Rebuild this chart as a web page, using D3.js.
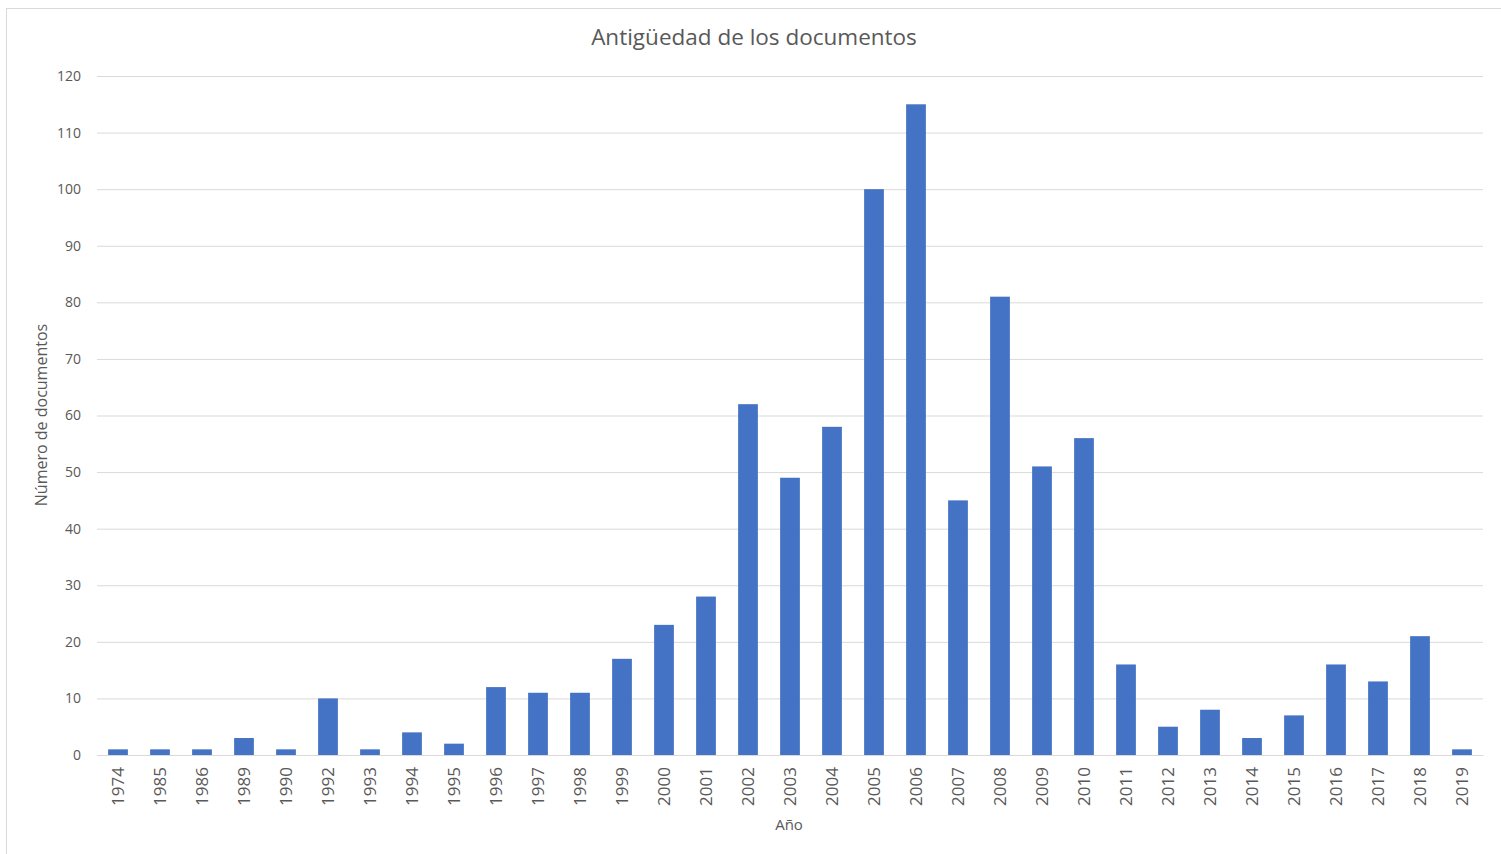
<!DOCTYPE html>
<html><head><meta charset="utf-8">
<script src="https://cdn.jsdelivr.net/npm/d3@7"></script>
<style>body{margin:0;background:#fff;}svg{display:block;}</style>
</head><body>
<svg id="chart" width="1501" height="854"></svg>
<script>
const years = ["1974","1985","1986","1989","1990","1992","1993","1994","1995","1996","1997","1998","1999","2000","2001","2002","2003","2004","2005","2006","2007","2008","2009","2010","2011","2012","2013","2014","2015","2016","2017","2018","2019"];
const counts = [1,1,1,3,1,10,1,4,2,12,11,11,17,23,28,62,49,58,100,115,45,81,51,56,16,5,8,3,7,16,13,21,1];
const yTicks = [0,10,20,30,40,50,60,70,80,90,100,110,120];
const title = "Antigüedad de los documentos";
const xTitle = "Año";
const yTitle = "Número de documentos";

(function(){
const svg = d3.select("#chart");
const font = "'Open Sans', 'Noto Sans', sans-serif";
const grey = "#595959";
svg.append("rect").attr("x",6.5).attr("y",8.5).attr("width",1500).attr("height",850)
  .attr("fill","#fff").attr("stroke","#d9d9d9");

const pL=97, pR=1483, pT=76, pB=755;
const x = d3.scaleBand().domain(years).range([pL,pR]).paddingInner(0.53).paddingOuter(0.265);
const y = d3.scaleLinear().domain([0,120]).range([pB,pT]);

const gy = svg.append("g").attr("transform",`translate(${pL},0)`)
  .call(d3.axisLeft(y).tickValues(yTicks).tickSize(-(pR-pL)).tickPadding(16));
gy.select(".domain").remove();
gy.selectAll(".tick line").attr("stroke","#d9d9d9").attr("stroke-width",1);
gy.selectAll(".tick text").attr("fill",grey).style("font-family",font).style("font-size","14px");

svg.append("g").selectAll("rect").data(years).join("rect")
  .attr("x",d=>x(d)).attr("width",x.bandwidth())
  .attr("y",(d,i)=>y(counts[i])).attr("height",(d,i)=>y(0)-y(counts[i]))
  .attr("fill","#4472C4");

const gx = svg.append("g").attr("transform",`translate(0,${pB})`)
  .call(d3.axisBottom(x).tickSize(0).tickPadding(0));
gx.select(".domain").attr("stroke","#d9d9d9");
gx.selectAll(".tick text").attr("fill",grey).style("font-family",font).style("font-size","17px")
  .attr("transform","rotate(-90)").attr("text-anchor","end").attr("dy","0.35em").attr("x",-12).attr("y",0);

svg.append("text").attr("x",754).attr("y",45).attr("text-anchor","middle")
  .attr("fill",grey).style("font-family",font).style("font-size","22.5px").text(title);
svg.append("text").attr("x",789).attr("y",830).attr("text-anchor","middle")
  .attr("fill",grey).style("font-family",font).style("font-size","15px").text(xTitle);
svg.append("text").attr("transform","translate(47,415) rotate(-90)").attr("text-anchor","middle")
  .attr("fill",grey).style("font-family",font).style("font-size","16px").text(yTitle);
})();
</script>
</body></html>
